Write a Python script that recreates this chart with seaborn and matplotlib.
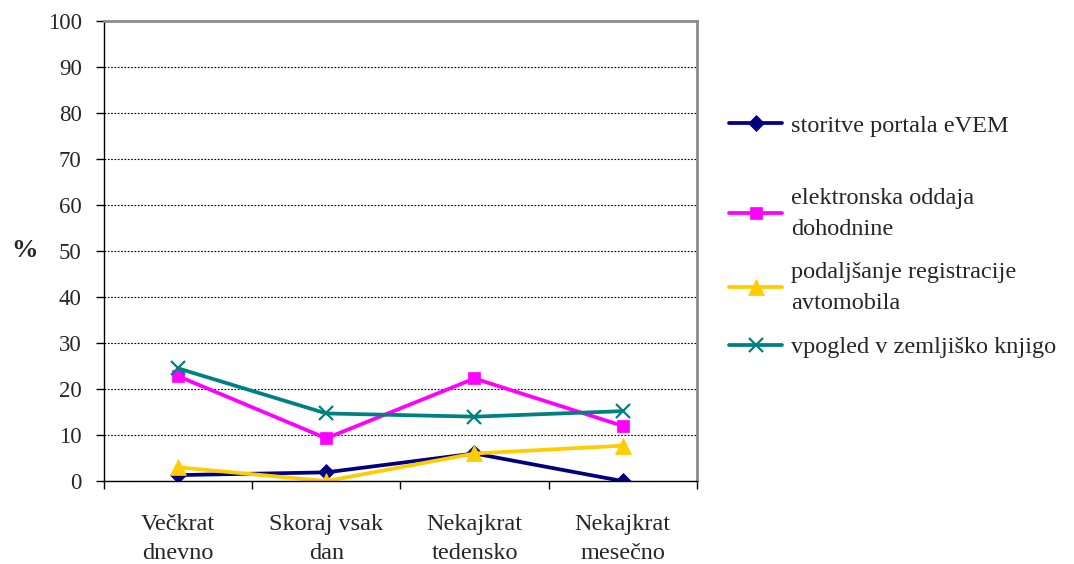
import numpy as np
import pandas as pd
import seaborn as sns
import matplotlib.pyplot as plt

categories = ["Večkrat\ndnevno", "Skoraj vsak\ndan", "Nekajkrat\ntedensko", "Nekajkrat\nmesečno"]
series_names = ["storitve portala eVEM",
                "elektronska oddaja\ndohodnine",
                "podaljšanje registracije\navtomobila",
                "vpogled v zemljiško knjigo"]
evem = [1.3, 1.9, 6.0, 0.0]
dohodnina = [22.8, 9.3, 22.3, 12.0]
registracija = [3.0, 0.0, 6.0, 7.7]
zemljiska = [24.5, 14.7, 14.0, 15.2]

colors = ["#000080", "#FF00FF", "#FFCC00", "#008080"]
markers = ["D", "s", "^", "x"]
msizes = [8.5, 9, 11, 10]

sns.set_theme(style="white")
plt.rcParams["font.family"] = ["Liberation Serif", "DejaVu Serif"]

fig = plt.figure(figsize=(10.74, 5.64), dpi=100)
ax = fig.add_axes([0.0968, 0.147, 0.552, 0.816])

# seaborn won't mix filled and line markers in one call, so one call per series
pos = np.arange(len(categories))
for name, vals, c, m, ms in zip(series_names, [evem, dohodnina, registracija, zemljiska],
                                colors, markers, msizes):
    d = pd.DataFrame({"pos": pos, "val": vals})
    sns.lineplot(data=d, x="pos", y="val", color=c, marker=m, markersize=ms,
                 markeredgecolor=c, markeredgewidth=1.6 if m == "x" else 0.5,
                 linewidth=2.7, sort=False, ax=ax, label=name, legend=False)

ax.set_xlim(-0.5, 3.5)
ax.set_ylim(0, 100)
ax.set_yticks(np.arange(0, 101, 10))
ax.set_xticks(pos)
ax.set_xticklabels(categories, fontsize=17.5, linespacing=1.5)
ax.set_xticks(np.arange(-0.5, 3.6, 1), minor=True)
ax.tick_params(axis="x", which="major", length=0, pad=24)
ax.tick_params(axis="x", which="minor", length=6, width=1, color="black", direction="out", bottom=True)
ax.tick_params(axis="y", which="major", length=6, width=1, color="black", direction="out", left=True,
               labelsize=16.5, pad=10)
ax.set_xlabel("")
ax.set_ylabel("%", rotation=0, fontsize=19, fontweight="bold", labelpad=17, va="center")

ax.yaxis.grid(True, linestyle=(0, (1.5, 1.5)), color="black", linewidth=0.8)
ax.xaxis.grid(False)
ax.set_axisbelow(True)

for side in ["left", "bottom"]:
    ax.spines[side].set_color("black")
    ax.spines[side].set_linewidth(1.0)
for side in ["top", "right"]:
    ax.spines[side].set_color("#8c8c8c")
    ax.spines[side].set_linewidth(2.0)

# legend: one box per entry so the uneven spacing of the original can be kept
lines = ax.get_lines()[:4]
legend_y = [126, 214, 288, 347]
for ln, name, yy in zip(lines, series_names, legend_y):
    leg = fig.legend([ln], [name], loc="center left",
                     bbox_to_anchor=(729 / 1074, 1 - yy / 564),
                     frameon=False, fontsize=17.5, handlelength=2.2,
                     handletextpad=0.35, borderpad=0, borderaxespad=0)
    for t in leg.get_texts():
        t.set_linespacing(1.6)

fig.savefig("out.png", dpi=100)
